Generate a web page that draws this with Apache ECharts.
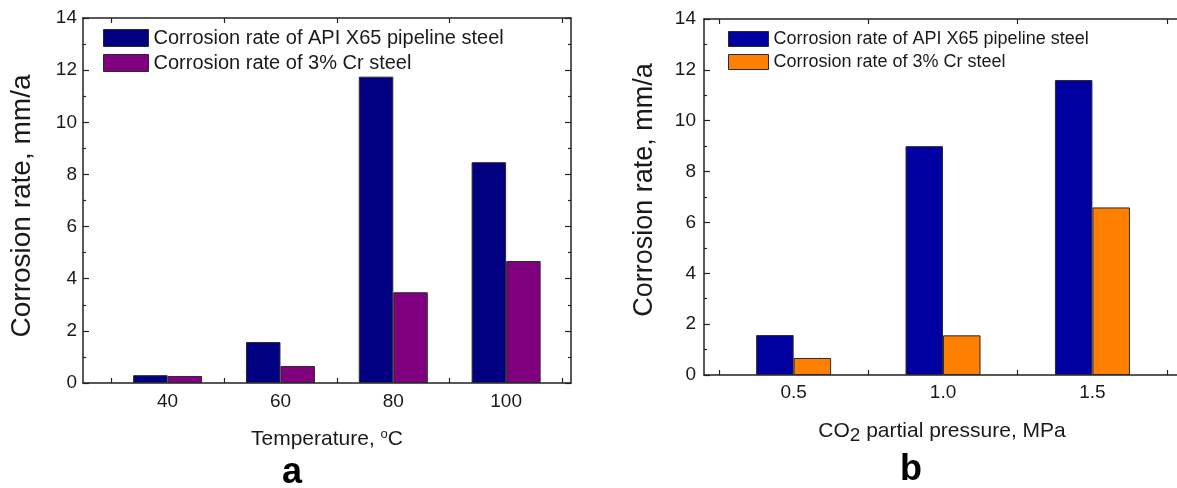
<!DOCTYPE html>
<html>
<head>
<meta charset="utf-8">
<script src="https://cdn.jsdelivr.net/npm/echarts@6/dist/echarts.min.js"></script>
<style>
  html, body { margin: 0; padding: 0; background: #fff; overflow: hidden; width: 1177px; height: 488px; }
  /* the right-hand frame runs past the page edge, so the canvas is a little wider than the window */
  #chart { width: 1210px; height: 488px; }
</style>
</head>
<body>
<div id="chart"></div>
<script>
// Panel a: corrosion rate vs temperature
const temperatures = [40, 60, 80, 100];
const x65ByTemp = [0.30, 1.57, 11.75, 8.47];
const cr3ByTemp = [0.27, 0.65, 3.48, 4.68];

// Panel b: corrosion rate vs CO2 partial pressure
const pressures = [0.5, 1.0, 1.5];
const x65ByPressure = [1.57, 9.0, 11.6];
const cr3ByPressure = [0.67, 1.56, 6.59];

const tempTickMarks = [30, 50, 70, 90, 110];
const pressureTickMarks = [0.25, 0.75, 1.25, 1.75];

const seriesNameX65 = 'Corrosion rate of API X65 pipeline steel';
const seriesNameCr3 = 'Corrosion rate of 3% Cr steel';

const FONT = '"Liberation Sans", Arial, Helvetica, sans-serif';
const INK = '#1a1a1a';
const LINE = { color: '#222', width: 1.5 };
const TICK = { color: '#222', width: 1.2 };

function pairs(xs, ys) { return xs.map((x, i) => [x, ys[i]]); }

function xAxisPair(grid, min, max, ticks, labels, labelSize, labelMargin, fmt) {
  const common = {
    type: 'value', gridIndex: grid, min: min, max: max,
    axisLine: { show: true, onZero: false, lineStyle: LINE },
    axisTick: { show: true, inside: true, length: 5, customValues: ticks, lineStyle: TICK },
    splitLine: { show: false }
  };
  return [
    Object.assign({}, common, {
      position: 'bottom',
      axisLabel: { show: true, customValues: labels, fontFamily: FONT, fontSize: labelSize, color: INK, margin: labelMargin, formatter: fmt }
    }),
    Object.assign({}, common, { position: 'top', axisLabel: { show: false } })
  ];
}

function yAxisPair(grid, labelSize, labelMargin) {
  const common = {
    type: 'value', gridIndex: grid, min: 0, max: 14, interval: 2,
    axisLine: { show: true, onZero: false, lineStyle: LINE },
    axisTick: { show: true, inside: true, length: 6, lineStyle: TICK },
    minorTick: { show: true, splitNumber: 2, length: 3, lineStyle: TICK },
    splitLine: { show: false }
  };
  return [
    Object.assign({}, common, {
      position: 'left',
      axisLabel: { show: true, fontFamily: FONT, fontSize: labelSize, color: INK, margin: labelMargin }
    }),
    Object.assign({}, common, { position: 'right', axisLabel: { show: false } })
  ];
}

function barSeries(name, xIdx, yIdx, data, color, width) {
  return {
    type: 'bar', name: name, xAxisIndex: xIdx, yAxisIndex: yIdx,
    data: data, barWidth: width, barGap: '0%',
    itemStyle: { color: color, borderColor: '#2a2a2a', borderWidth: 1 },
    emphasis: { disabled: true }
  };
}

function legendItem(name, color) {
  return { name: name, icon: 'rect', itemStyle: { color: color, borderColor: '#2a2a2a', borderWidth: 1 } };
}

const chart = echarts.init(document.getElementById('chart'), null, { renderer: 'canvas' });

chart.setOption({
  animation: false,
  backgroundColor: '#fff',
  grid: [
    { left: 83, top: 18, width: 488, height: 365 },
    { left: 704, top: 19, width: 493, height: 356 }
  ],
  xAxis: [].concat(
    xAxisPair(0, 25, 111.5, tempTickMarks, temperatures, 19, 9, v => String(v)),
    xAxisPair(1, 0.2, 1.85, pressureTickMarks, pressures, 19, 8, v => v.toFixed(1))
  ),
  yAxis: [].concat(
    yAxisPair(0, 19, 6),
    yAxisPair(1, 19, 8)
  ),
  legend: [
    {
      left: 103, top: 28, orient: 'vertical', padding: 0,
      itemWidth: 45, itemHeight: 17, itemGap: 5,
      selectedMode: false,
      textStyle: { fontFamily: FONT, fontSize: 20, color: INK, lineHeight: 17, padding: [0, 0, 0, 0] },
      data: [legendItem(seriesNameX65, '#000080'), legendItem(seriesNameCr3, '#800080')]
    },
    {
      left: 728, top: 30, orient: 'vertical', padding: 0,
      itemWidth: 40, itemHeight: 15, itemGap: 5,
      selectedMode: false,
      textStyle: { fontFamily: FONT, fontSize: 18, color: INK, lineHeight: 15 },
      data: [legendItem(seriesNameX65, '#0000A0'), legendItem(seriesNameCr3, '#FF8000')]
    }
  ],
  series: [
    barSeries(seriesNameX65, 0, 0, pairs(temperatures, x65ByTemp), '#000080', 34.5),
    barSeries(seriesNameCr3, 0, 0, pairs(temperatures, cr3ByTemp), '#800080', 34.5),
    barSeries(seriesNameX65, 2, 2, pairs(pressures, x65ByPressure), '#0000A0', 37.5),
    barSeries(seriesNameCr3, 2, 2, pairs(pressures, cr3ByPressure), '#FF8000', 37.5)
  ],
  graphic: [
    {
      type: 'text', x: 22, y: 206, rotation: Math.PI / 2,
      style: { text: 'Corrosion rate, mm/a', font: '28px ' + FONT, fill: INK, align: 'center', verticalAlign: 'middle' }
    },
    {
      type: 'text', x: 645, y: 190, rotation: Math.PI / 2,
      style: { text: 'Corrosion rate, mm/a', font: '27px ' + FONT, fill: INK, align: 'center', verticalAlign: 'middle' }
    },
    {
      type: 'text', x: 327, y: 439,
      style: {
        text: 'Temperature, {sup|o}C', font: '21px ' + FONT, fill: INK, align: 'center', verticalAlign: 'middle',
        rich: { sup: { fontFamily: FONT, fontSize: 13, verticalAlign: 'top', padding: [0, 0, 10, 0], fill: INK } }
      }
    },
    {
      type: 'text', x: 942, y: 431,
      style: {
        text: 'CO{sub|2} partial pressure, MPa', font: '21px ' + FONT, fill: INK, align: 'center', verticalAlign: 'middle',
        rich: { sub: { fontFamily: FONT, fontSize: 19, padding: [10, 0, 0, 0], fill: INK } }
      }
    },
    {
      type: 'text', x: 292, y: 473,
      style: { text: 'a', font: 'bold 36px ' + FONT, fill: '#000', align: 'center', verticalAlign: 'middle' }
    },
    {
      type: 'text', x: 911, y: 470,
      style: { text: 'b', font: 'bold 36px ' + FONT, fill: '#000', align: 'center', verticalAlign: 'middle' }
    }
  ]
});
</script>
</body>
</html>
